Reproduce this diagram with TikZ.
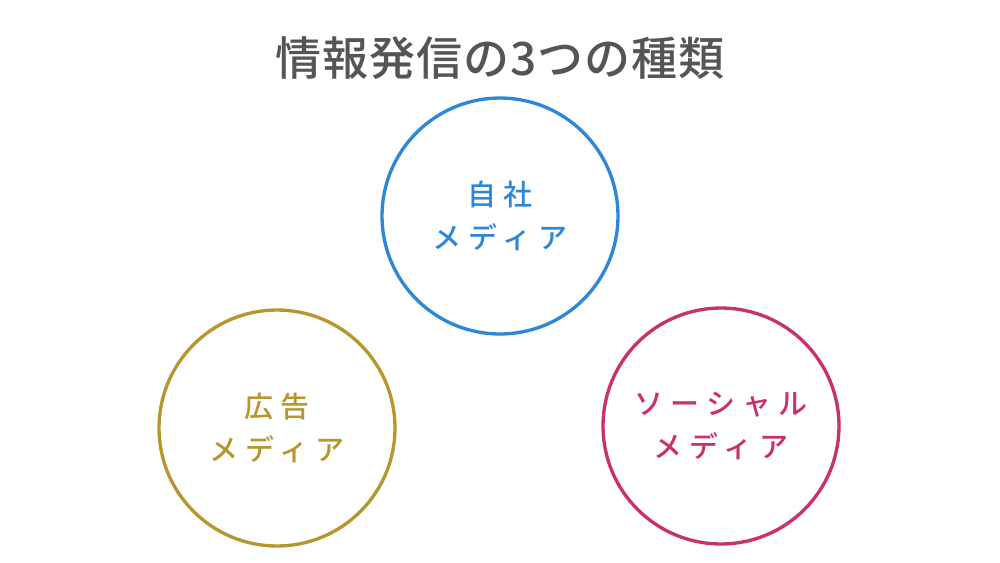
\documentclass[tikz,border=0pt]{standalone}
\usepackage{fontspec}
\setmainfont{Noto Sans CJK JP}
\newfontfamily\titlefont{Noto Sans CJK JP Medium}[LetterSpace=2]
\newfontfamily\labelfont{Noto Sans CJK JP Medium}[LetterSpace=25]
\usepackage{tikz}

\definecolor{titlegray}{HTML}{555555}
\definecolor{ownblue}{HTML}{2E86D6}
\definecolor{adgold}{HTML}{B8962E}
\definecolor{socialpink}{HTML}{C8306E}

\tikzset{
    media/.style={circle, draw=#1, text=#1, line width=1.9pt, minimum size=4.72cm,
        align=center, font=\labelfont\fontsize{16.5}{24.5}\selectfont}
}

\begin{document}
\begin{tikzpicture}[x=0.02cm, y=-0.02cm]
    % Canvas
    \useasboundingbox (0,0) rectangle (1000,562);

    % Title
    \node[text=titlegray, font=\titlefont\fontsize{26.2}{30}\selectfont] (title) at (500,58) {情報発信の3つの種類};

    % Three kinds of media
    \node[media=ownblue] (own) at (500,216) {自社\\メディア};
    \node[media=adgold] (ad) at (277,428) {広告\\メディア};
    \node[media=socialpink] (social) at (721,426) {ソーシャル\\メディア};
\end{tikzpicture}
\end{document}
